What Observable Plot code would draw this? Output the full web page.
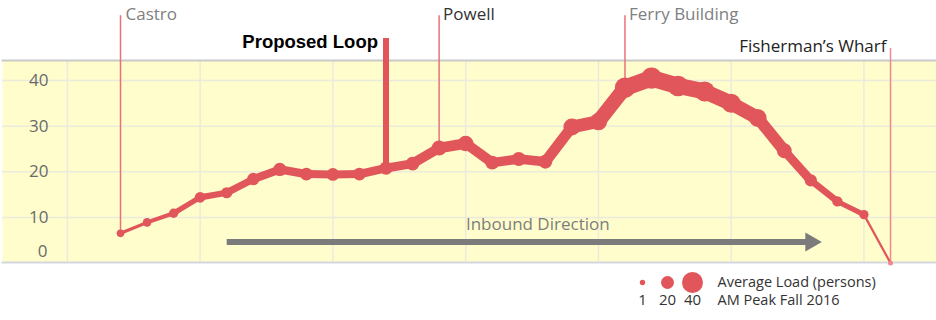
<!DOCTYPE html>
<html>
<head>
<meta charset="utf-8">
<script src="https://cdn.jsdelivr.net/npm/d3@7"></script>
<script src="https://cdn.jsdelivr.net/npm/@observablehq/plot@0.6"></script>
<style>
  html, body { margin: 0; padding: 0; background: #fff; }
  #chart { width: 936px; }
  svg { display: block; }
</style>
</head>
<body>
<div id="chart"></div>
<script>
// ---- data ----
const loads = [6.5, 8.9, 10.9, 14.4, 15.4, 18.4, 20.5, 19.5, 19.4, 19.5,
               20.8, 21.8, 25.2, 26.2, 22.0, 22.8, 22.2, 29.8, 31.0, 38.4,
               40.5, 38.8, 37.6, 35.0, 31.8, 24.6, 18.1, 13.5, 10.6, 0];
const stationNames = ["Castro", "Proposed Loop", "Powell", "Ferry Building", "Fisherman’s Wharf"];
const stationStops = [0, 10, 12, 19, 29];
const yTicks = [10, 20, 30, 40];
const yZeroTick = [0];
const gridStops = [-2, 3, 8, 13, 18, 23, 28];
const directionLabel = ["Inbound Direction"];
const directionStops = [4, 26];
const legendLoads = [1, 20, 40];
const legendText = ["Average Load (persons)", "AM Peak Fall 2016"];

// ---- derived tables ----
const points = loads.map((v, i) => ({stop: i, load: v}));
const segments = d3.pairs(points).map(([a, b]) => ({x1: a.stop, y1: a.load, x2: b.stop, y2: b.load, w: (a.load + b.load) / 2}));
const stations = stationNames.map((name, i) => ({name, stop: stationStops[i], load: loads[stationStops[i]]}));
const direction = [{label: directionLabel[0], from: directionStops[0], to: directionStops[1]}];
const st = n => stations.filter(d => d.name === n);

const RED = "#e0565b";
const PINK = "#ea717a";
const font = "Open Sans";
const rScale = {type: "linear", domain: [0, 40], range: [2.5, 10.5]};

const main = Plot.plot({
  width: 936,
  height: 268,
  marginLeft: 2,
  marginRight: 0,
  marginTop: 60,
  marginBottom: 6,
  style: {fontFamily: font, background: "#fff"},
  x: {domain: [0, 29], range: [120, 890], axis: null},
  y: {domain: [0, 40], range: [262.5, 80], axis: null},
  r: rScale,
  marks: [
    Plot.frame({fill: "#fffdcc", stroke: "none"}),
    Plot.gridX(gridStops, {stroke: "#ebebdc", strokeOpacity: 1, strokeWidth: 1.5}),
    Plot.gridY(yTicks, {stroke: "#ebebdc", strokeOpacity: 1, strokeWidth: 1.5}),
    Plot.frame({anchor: "top", stroke: "#c9c9c9", strokeWidth: 2}),
    Plot.frame({anchor: "bottom", stroke: "#d4d7de", strokeWidth: 2}),
    Plot.axisY({ticks: yTicks, tickSize: 0, dx: 55, fontSize: 17, fill: "#6a6a6a", label: null}),
    Plot.axisY({ticks: yZeroTick, tickSize: 0, dx: 54, dy: -11, fontSize: 17, fill: "#6a6a6a", label: null}),
    // inbound arrow
    Plot.link(direction, {x1: "from", x2: "to", y1: 4.6, y2: 4.6, stroke: "#7b7b7b", strokeWidth: 6}),
    Plot.dot(direction, {x: "to", y: 4.6, symbol: "triangle", rotate: 90, r: 7.1, fill: "#7b7b7b", stroke: "none"}),
    Plot.text(direction, {x: d => (d.from + d.to) / 2, y: 4.6, dx: 19, dy: -17, text: "label", fontSize: 17, fill: "#7d7d7d"}),
    // station rules
    Plot.ruleX([...st("Castro"), ...st("Powell"), ...st("Ferry Building")], {x: "stop", y1: "load", y2: 54.2, stroke: PINK, strokeWidth: 1.5}),
    Plot.ruleX(st("Fisherman’s Wharf"), {x: "stop", y1: "load", y2: 47.0, stroke: "#f08890", strokeWidth: 1.5}),
    Plot.ruleX(st("Proposed Loop"), {x: "stop", y1: "load", y2: 49.2, stroke: RED, strokeWidth: 6}),
    // load line
    Plot.link(segments, {x1: "x1", y1: "y1", x2: "x2", y2: "y2", strokeWidth: d => Math.max(1, d.w * 0.42), stroke: RED, strokeLinecap: "round"}),
    Plot.dot(points, {x: "stop", y: "load", r: "load", fill: d => d.load > 0 ? RED : "#f08890", stroke: "none"}),
    // station labels
    Plot.text(st("Castro"), {x: "stop", y: 54.2, dx: 5, dy: -1, text: "name", textAnchor: "start", fontSize: 17, fill: "#808080"}),
    Plot.text(st("Powell"), {x: "stop", y: 54.2, dx: 4, dy: -1, text: "name", textAnchor: "start", fontSize: 17, fill: "#333"}),
    Plot.text(st("Ferry Building"), {x: "stop", y: 54.2, dx: 4, dy: -1, text: "name", textAnchor: "start", fontSize: 17, fill: "#808080"}),
    Plot.text(st("Proposed Loop"), {x: "stop", y: 49.2, dx: -8, dy: 4, text: "name", textAnchor: "end", fontSize: 18.5, fontWeight: "bold", fontFamily: "Liberation Sans", fill: "#000"}),
    Plot.text(st("Fisherman’s Wharf"), {x: "stop", y: 47.0, dx: -4, dy: -2.5, text: "name", textAnchor: "end", fontSize: 17, fill: "#222"})
  ]
});

const legend = Plot.plot({
  width: 936,
  height: 52,
  margin: 0,
  style: {fontFamily: font, background: "#fff"},
  x: {type: "point", domain: ["1", "20", "40", "label"], range: [641, 718], padding: 0, axis: null},
  y: {type: "point", domain: ["top", "bottom"], range: [14, 32], padding: 0, axis: null},
  r: rScale,
  marks: [
    Plot.dot(legendLoads, {x: d => String(d), y: () => "top", r: d => d, fill: RED, stroke: "none"}),
    Plot.text(legendLoads, {x: d => String(d), y: () => "bottom", text: d => String(d), fontSize: 15, fill: "#333"}),
    Plot.text(legendText, {x: () => "label", y: (d, i) => i ? "bottom" : "top", text: d => d, textAnchor: "start", fontSize: 14.5, fill: "#333"})
  ]
});

const el = document.getElementById("chart");
el.appendChild(main);
el.appendChild(legend);
</script>
</body>
</html>
